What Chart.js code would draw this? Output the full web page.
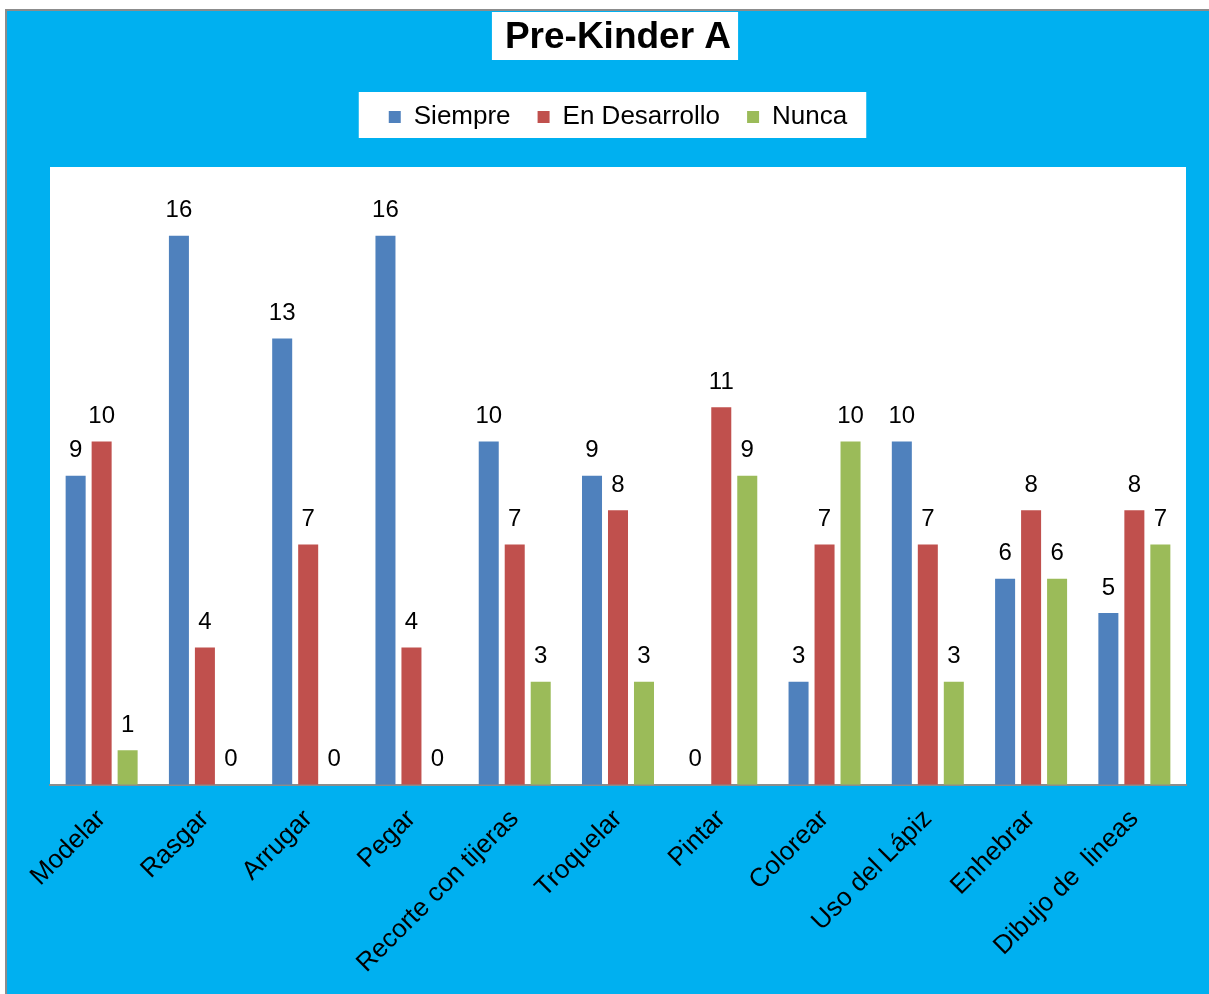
<!DOCTYPE html>
<html>
<head>
<meta charset="utf-8">
<script src="https://cdn.jsdelivr.net/npm/chart.js@4/dist/chart.umd.min.js"></script>
<style>
  html, body { margin: 0; padding: 0; background: #ffffff; }
  #wrap { position: relative; width: 1209px; height: 994px; }
</style>
</head>
<body>
<div id="wrap"><canvas id="c" width="1209" height="994"></canvas></div>
<script>
const categories = ["Modelar", "Rasgar", "Arrugar", "Pegar", "Recorte con tijeras", "Troquelar", "Pintar", "Colorear", "Uso del Lápiz", "Enhebrar", "Dibujo de  lineas"];
const siempre = [9, 16, 13, 16, 10, 9, 0, 3, 10, 6, 5];
const enDesarrollo = [10, 4, 7, 4, 7, 8, 11, 7, 7, 8, 8];
const nunca = [1, 0, 0, 0, 3, 3, 9, 10, 3, 6, 7];
const seriesNames = ["Siempre", "En Desarrollo", "Nunca"];
const titleText = "Pre-Kinder A";

const FONT = "'Liberation Sans', Arial, sans-serif";

const backgroundPlugin = {
  id: 'bg',
  beforeInit(chart) {
    const origFit = chart.legend.fit;
    chart.legend.fit = function () {
      origFit.call(this);
      this.height += 27;
    };
  },
  beforeDraw(chart) {
    const ctx = chart.ctx;
    const W = chart.width, H = chart.height;
    ctx.save();
    ctx.fillStyle = '#ffffff';
    ctx.fillRect(0, 0, W, H);
    ctx.fillStyle = '#8c8c8c';
    ctx.fillRect(5, 9, W - 5, H - 9);
    ctx.fillStyle = '#00B0F0';
    ctx.fillRect(7, 11, W - 7, H - 11);
    // plot area
    const a = chart.chartArea;
    ctx.fillStyle = '#ffffff';
    ctx.fillRect(a.left, a.top, a.right - a.left, a.bottom - a.top);
    // title box
    const t = chart.titleBlock;
    ctx.font = "bold 37px " + FONT;
    const tw = ctx.measureText(titleText).width;
    const tcx = (t.left + t.right) / 2 - 3;
    ctx.fillRect(tcx - tw / 2 - 10, 12, tw + 20, 48);
    // legend box
    const lg = chart.legend;
    if (lg.legendHitBoxes && lg.legendHitBoxes.length) {
      let minL = Infinity, maxR = -Infinity;
      lg.legendHitBoxes.forEach(h => {
        minL = Math.min(minL, h.left);
        maxR = Math.max(maxR, h.left + h.width);
      });
      ctx.fillRect(minL - 30, 92, (maxR - minL) + 49, 46);
    }
    ctx.restore();
  }
};

const dataLabelPlugin = {
  id: 'dlabels',
  afterDatasetsDraw(chart) {
    const ctx = chart.ctx;
    ctx.save();
    ctx.font = "24px " + FONT;
    ctx.fillStyle = '#000000';
    ctx.textAlign = 'center';
    ctx.textBaseline = 'middle';
    chart.data.datasets.forEach((ds, i) => {
      const meta = chart.getDatasetMeta(i);
      meta.data.forEach((bar, j) => {
        ctx.fillText(String(ds.data[j]), bar.x, bar.y - 25);
      });
    });
    ctx.restore();
  }
};

new Chart(document.getElementById('c'), {
  type: 'bar',
  data: {
    labels: categories,
    datasets: [
      { label: seriesNames[0], data: siempre, backgroundColor: '#4F81BD' },
      { label: seriesNames[1], data: enDesarrollo, backgroundColor: '#C0504D' },
      { label: seriesNames[2], data: nunca, backgroundColor: '#9BBB59' }
    ]
  },
  options: {
    responsive: false,
    animation: false,
    devicePixelRatio: 1,
    layout: { padding: { left: 50, right: 23, top: 0, bottom: -4 } },
    datasets: { bar: { categoryPercentage: 0.755, barPercentage: 0.77 } },
    plugins: {
      title: {
        display: true,
        text: titleText,
        color: '#000000',
        font: { family: FONT, size: 37, weight: 'bold' },
        padding: { top: 16, bottom: 16.6 }
      },
      legend: {
        display: true,
        position: 'top',
        labels: {
          color: '#000000',
          font: { family: FONT, size: 26 },
          boxWidth: 12,
          boxHeight: 12,
          padding: 27
        }
      },
      tooltip: { enabled: false }
    },
    scales: {
      x: {
        grid: { display: false, drawTicks: false },
        border: { display: true, color: '#8c8c8c', width: 2 },
        ticks: {
          color: '#000000',
          font: { family: FONT, size: 26 },
          minRotation: 45,
          maxRotation: 45,
          autoSkip: false,
          padding: 19
        }
      },
      y: {
        display: false,
        min: 0,
        max: 18
      }
    }
  },
  plugins: [backgroundPlugin, dataLabelPlugin]
});
</script>
</body>
</html>
